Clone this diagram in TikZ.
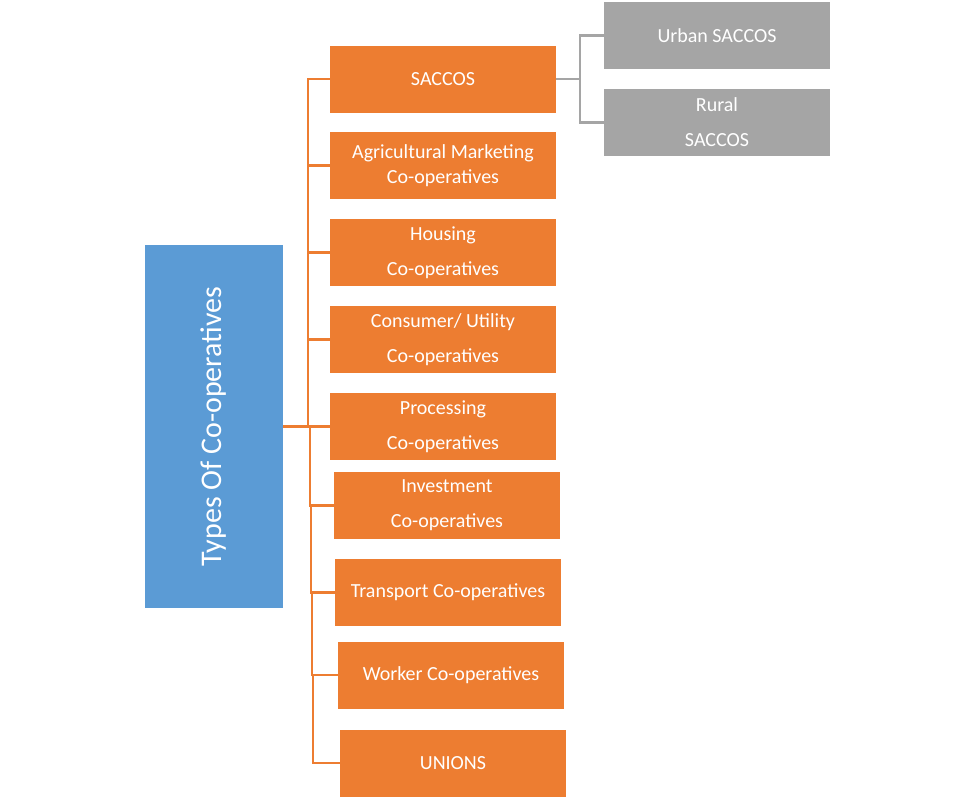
\documentclass[tikz,border=0pt]{standalone}
\usepackage{fontspec}
\setmainfont{Carlito}
\begin{document}
\begin{tikzpicture}[x=1pt,y=-1pt,
  ob/.style={fill={rgb,255:red,237;green,125;blue,49},draw=none,text=white,minimum width=226pt,minimum height=67pt,inner sep=0pt,align=center,font=\fontsize{20}{25}\selectfont},
  gb/.style={ob,fill={rgb,255:red,165;green,165;blue,165}},
  ol/.style={draw={rgb,255:red,237;green,125;blue,49},line width=2.2pt},
  gl/.style={draw={rgb,255:red,165;green,165;blue,165},line width=2.2pt}]
\useasboundingbox (0,0) rectangle (975,809);
\node[fill={rgb,255:red,91;green,155;blue,213},minimum width=138pt,minimum height=363pt,inner sep=0pt] (root) at (214,426.5) {};
\node[rotate=90,text=white,font=\fontsize{30}{36}\selectfont] (rt) at (root.center) {Types Of Co-operatives};
\node[ob] (s) at (443,79) {SACCOS};
\node[ob] (a) at (443,165.5) {Agricultural Marketing\\Co-operatives};
\node[ob] (h) at (443,252.5) {Housing\\[10pt]Co-operatives};
\node[ob] (c) at (443,339.5) {Consumer/ Utility\\[10pt]Co-operatives};
\node[ob] (p) at (443,426.5) {Processing\\[10pt]Co-operatives};
\node[ob] (i) at (447,505.5) {Investment\\[10pt]Co-operatives};
\node[ob] (t) at (448,592.5) {Transport Co-operatives};
\node[ob] (w) at (451,675) {Worker Co-operatives};
\node[ob] (u) at (453,763) {UNIONS};
\node[gb] (ur) at (717,35.5) {Urban SACCOS};
\node[gb] (ru) at (717,122.5) {Rural\\[10pt]SACCOS};
\draw[ol] (root.east) -- (p.west);
\foreach \b in {s,a,h,c} \draw[ol] (308,426.5) |- (\b.west);
\draw[ol] (310,426.5) |- (i.west);
\draw[ol] (311,505.5) |- (t.west);
\draw[ol] (312,592.5) |- (w.west);
\draw[ol] (313,675) |- (u.west);
\draw[gl] (s.east) -- (580,79) |- (ur.west);
\draw[gl] (580,79) |- (ru.west);
\end{tikzpicture}
\end{document}
